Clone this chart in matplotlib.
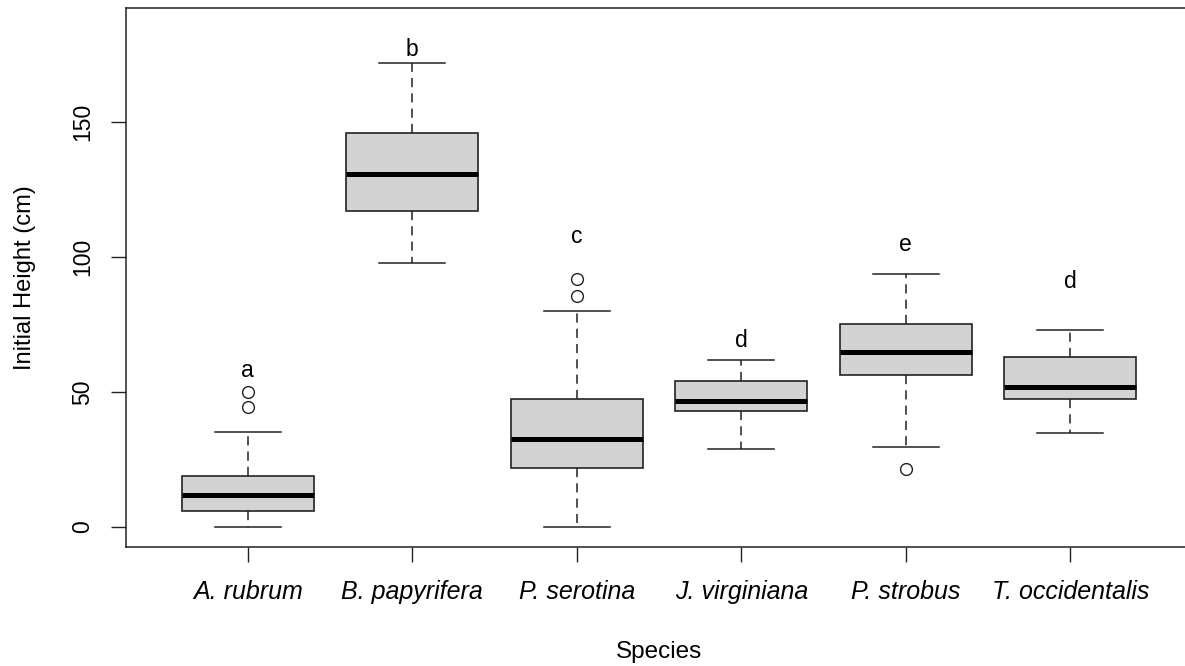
import matplotlib
matplotlib.use("Agg")
import matplotlib.pyplot as plt

plt.rcParams['font.family'] = ['Liberation Sans', 'DejaVu Sans']

species = ['A. rubrum', 'B. papyrifera', 'P. serotina',
           'J. virginiana', 'P. strobus', 'T. occidentalis']
whisker_low = [0, 98, 0, 28.7, 29.7, 34.9]
q1 = [5.7, 117, 21.8, 43.1, 56.4, 47.3]
medians = [11.8, 130.9, 32.7, 46.7, 64.7, 52.0]
q3 = [18.7, 146, 47.2, 53.9, 75.2, 62.8]
whisker_high = [35, 172, 80, 61.8, 93.9, 73.1]
outliers = [[50, 44.6], [], [91.8, 85.5], [], [21.4], []]
letters = ['a', 'b', 'c', 'd', 'e', 'd']
letter_y = [55.5, 174.7, 105.3, 66.5, 102.4, 88.4]

stats = []
for i in range(len(species)):
    stats.append({
        'label': species[i],
        'whislo': whisker_low[i],
        'q1': q1[i],
        'med': medians[i],
        'q3': q3[i],
        'whishi': whisker_high[i],
        'fliers': outliers[i],
    })

fig = plt.figure(figsize=(11.85, 6.66), dpi=100)
ax = fig.add_axes([0.1063, 0.1791, 0.8996, 0.8089])

edge = '#222222'
positions = list(range(1, len(species) + 1))
ax.bxp(stats, positions=positions, widths=0.8, patch_artist=True,
       boxprops=dict(facecolor='#d3d3d3', edgecolor=edge, linewidth=1.2),
       medianprops=dict(color='black', linewidth=3.6, solid_capstyle='butt'),
       whiskerprops=dict(color=edge, linewidth=1.1, linestyle=(0, (6, 4))),
       capprops=dict(color=edge, linewidth=1.1),
       flierprops=dict(marker='o', markerfacecolor='none',
                       markeredgecolor=edge, markersize=8.5,
                       markeredgewidth=1.0))

# буквы групп над боксами
for x, lab, y in zip(positions, letters, letter_y):
    ax.text(x, y, lab, ha='center', va='baseline', fontsize=16.5)

ax.set_xlim(0.26, 6.74)
ax.set_ylim(-7.4, 192.4)

ax.set_yticks([0, 50, 100, 150])
ax.set_yticklabels(['0', '50', '100', '150'], rotation=90,
                   ha='center', va='center', fontsize=16.5)
ax.set_xticks(positions)
ax.set_xticklabels(species, style='italic', va='center', fontsize=18)

ax.tick_params(axis='both', direction='out', length=10.8, width=1.0,
               color=edge)
ax.tick_params(axis='x', pad=21.6)
ax.tick_params(axis='y', pad=20.2)

for s in ax.spines.values():
    s.set_linewidth(1.1)
    s.set_color(edge)

ax.set_ylabel('Initial Height (cm)', fontsize=17, va='center')
ax.yaxis.set_label_coords(-0.095, 0.5)
ax.set_xlabel('Species', fontsize=17.5, va='center')
ax.xaxis.set_label_coords(0.5, -0.195)

fig.savefig('out.png', dpi=100)
